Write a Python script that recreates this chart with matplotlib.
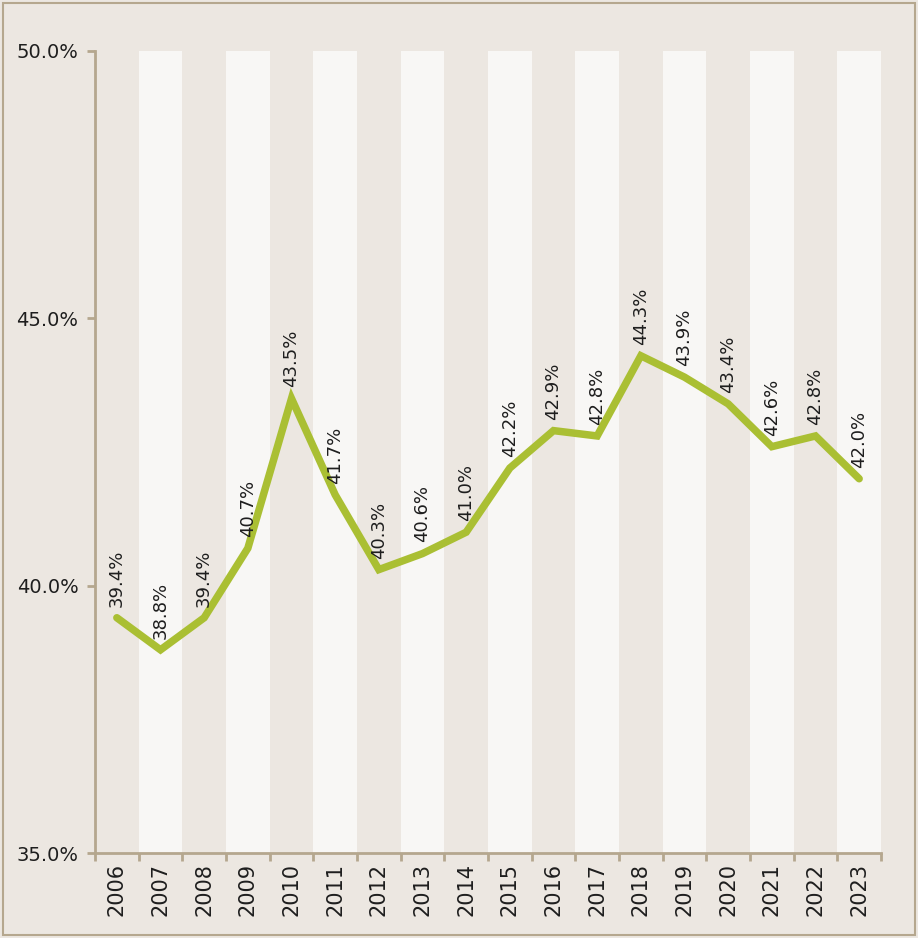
import matplotlib
matplotlib.use("Agg")
import matplotlib.pyplot as plt
from matplotlib.patches import Rectangle
import numpy as np

# share of total, by year
years = ["2006", "2007", "2008", "2009", "2010", "2011", "2012", "2013", "2014",
         "2015", "2016", "2017", "2018", "2019", "2020", "2021", "2022", "2023"]
share = [39.4, 38.8, 39.4, 40.7, 43.5, 41.7, 40.3, 40.6, 41.0,
         42.2, 42.9, 42.8, 44.3, 43.9, 43.4, 42.6, 42.8, 42.0]
yticks = [35.0, 40.0, 45.0, 50.0]

bg = "#ECE7E1"
stripe = "#F8F7F5"
axis_col = "#B5A78E"
green = "#AABF33"
ink = "#1E1E1E"

plt.rcParams["font.family"] = ["DejaVu Sans"]

fig = plt.figure(figsize=(9.18, 9.38), dpi=100, facecolor=bg)
ax = fig.add_axes([95 / 918, 1 - 853 / 938, (881 - 95) / 918, (853 - 51) / 938])
ax.set_facecolor(bg)

x = np.arange(len(years))

# light bands behind every other year
for i in x[1::2]:
    ax.axvspan(i - 0.5, i + 0.5, color=stripe, zorder=0, lw=0)

ax.plot(x, share, color=green, lw=5.4, solid_joinstyle="miter",
        solid_capstyle="round", zorder=3)

for xi, v in zip(x, share):
    ax.annotate(f"{v:.1f}%", (xi, v), xytext=(0, 8), textcoords="offset points",
                rotation=90, ha="center", va="bottom", fontsize=13, color=ink, zorder=4)

ax.set_xlim(-0.5, len(years) - 0.5)
ax.set_ylim(35, 50)

ax.set_yticks(yticks)
ax.set_yticklabels([f"{t:.1f}%" for t in yticks], fontsize=14, color=ink)

ax.set_xticks(np.arange(len(years) + 1) - 0.5)
ax.set_xticklabels([])
ax.set_xticks(x, minor=True)
ax.set_xticklabels(years, minor=True, rotation=90, fontsize=15, color=ink)

ax.tick_params(axis="x", which="major", length=6, width=2, color=axis_col, direction="out")
ax.tick_params(axis="x", which="minor", length=0, pad=7)
ax.tick_params(axis="y", length=6, width=2, color=axis_col, direction="out", pad=6)

for s in ["top", "right"]:
    ax.spines[s].set_visible(False)
for s in ["left", "bottom"]:
    ax.spines[s].set_color(axis_col)
    ax.spines[s].set_linewidth(2)

# thin frame round the whole figure
fig.patches.append(Rectangle((0.003, 0.003), 0.994, 0.994, transform=fig.transFigure,
                             fill=False, edgecolor=axis_col, lw=1.5))

fig.savefig("out.png", dpi=100, facecolor=bg)
